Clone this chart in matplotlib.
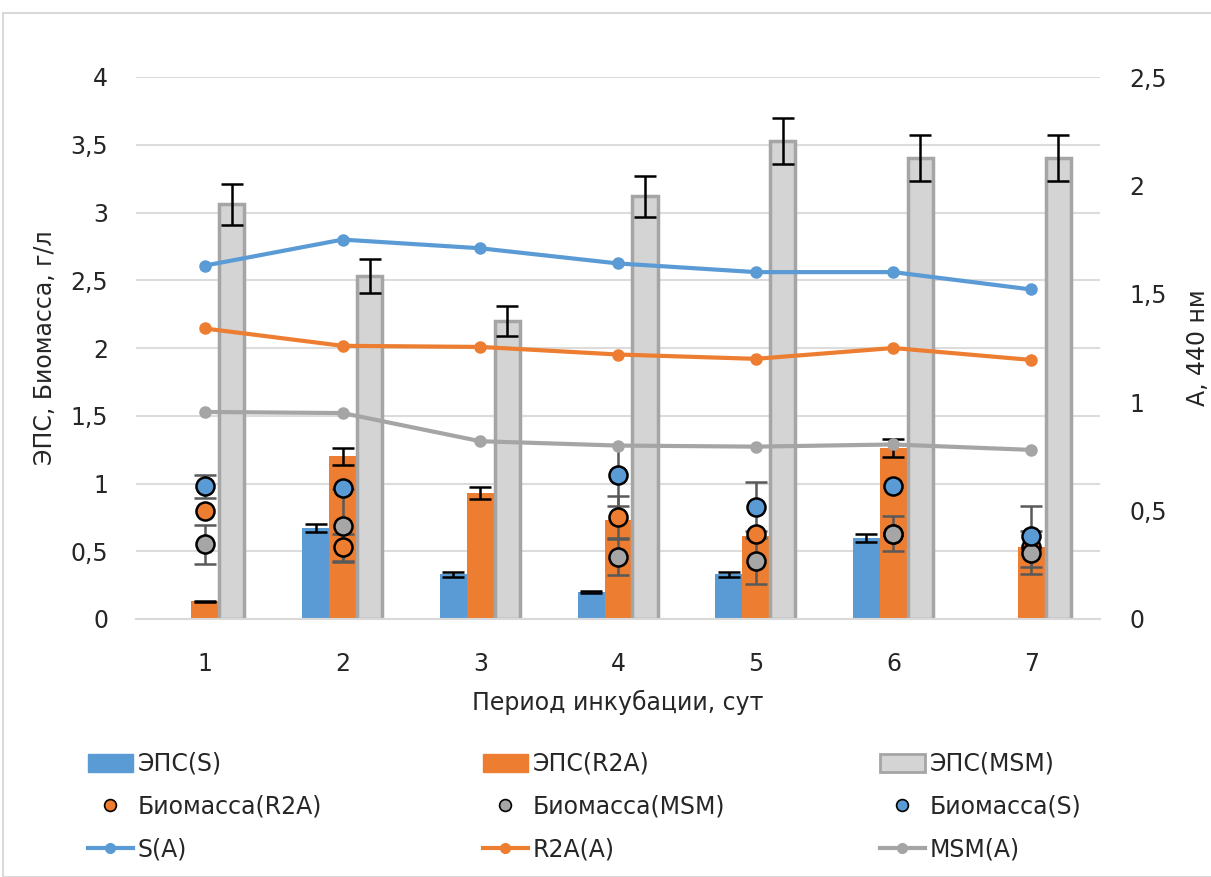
import matplotlib
matplotlib.use("Agg")
import matplotlib.pyplot as plt
import numpy as np
from matplotlib.lines import Line2D
from matplotlib.patches import Patch, Rectangle
from matplotlib.ticker import FuncFormatter

plt.rcParams['font.family'] = ['DejaVu Sans']

days = [1, 2, 3, 4, 5, 6, 7]

# EPS, g/l (left axis)
eps_s = [0.0, 0.67, 0.33, 0.20, 0.33, 0.60, 0.0]
eps_s_err = [0.0, 0.03, 0.02, 0.01, 0.02, 0.03, 0.0]
eps_r2a = [0.13, 1.20, 0.93, 0.73, 0.61, 1.26, 0.53]
eps_r2a_err = [0.005, 0.06, 0.045, 0.0, 0.0, 0.065, 0.0]
eps_msm = [3.06, 2.53, 2.20, 3.12, 3.53, 3.40, 3.40]
eps_msm_err = [0.15, 0.125, 0.11, 0.15, 0.17, 0.17, 0.17]

# Biomass, g/l (left axis); None = not measured
bio_r2a = [0.80, 0.53, None, 0.75, 0.63, 0.63, 0.53]
bio_r2a_err = [0.0, 0.10, 0.0, 0.16, 0.0, 0.0, 0.0]
bio_msm = [0.55, 0.69, None, 0.46, 0.43, 0.63, 0.49]
bio_msm_err = [0.145, 0.27, 0.0, 0.135, 0.17, 0.13, 0.16]
bio_s = [0.98, 0.97, None, 1.06, 0.83, 0.98, 0.61]
bio_s_err = [0.085, 0.0, 0.0, 0.225, 0.18, 0.0, 0.225]

# Absorbance at 440 nm (right axis)
a_s = [1.63, 1.75, 1.71, 1.64, 1.60, 1.60, 1.52]
a_r2a = [1.34, 1.26, 1.255, 1.22, 1.20, 1.25, 1.195]
a_msm = [0.955, 0.95, 0.82, 0.80, 0.795, 0.805, 0.78]

left_ticks = [0, 0.5, 1, 1.5, 2, 2.5, 3, 3.5, 4]
right_ticks = [0, 0.5, 1, 1.5, 2, 2.5]

BLUE = '#5b9bd5'
ORANGE = '#ed7d31'
GRAY = '#a5a5a5'
LIGHT = '#d4d4d4'
TXT = '#262626'
FS = 17

W, H = 1211, 877
fig = plt.figure(figsize=(W / 100, H / 100), dpi=100)
fig.patches.append(Rectangle((3 / W, 0), 1.2, 1 - 13 / H, transform=fig.transFigure,
                             fill=False, edgecolor='#d9d9d9', linewidth=1.5))

ax = fig.add_axes([136 / W, 1 - 619 / H, 964 / W, 542 / H])
x = np.array(days, dtype=float)
bw = 0.196


def comma(v, _):
    return ('%g' % v).replace('.', ',')


ax.set_xlim(0.5, 7.5)
ax.set_ylim(0, 4)
ax.set_yticks(left_ticks)
ax.yaxis.set_major_formatter(FuncFormatter(comma))
ax.set_xticks(days)
ax.grid(axis='y', color='#dcdcdc', linewidth=1.5)
ax.set_axisbelow(True)
for sp in ['top', 'left', 'right']:
    ax.spines[sp].set_visible(False)
ax.spines['bottom'].set_color('#d9d9d9')
ax.spines['bottom'].set_linewidth(1.5)
ax.tick_params(length=0, labelsize=FS, colors=TXT)
ax.tick_params(axis='y', pad=20)
ax.tick_params(axis='x', pad=24)

ekw = dict(ecolor='black', elinewidth=1.8, capsize=8, capthick=1.8)
s_mask = np.array(eps_s) > 0
ax.bar(x[s_mask] - bw, np.array(eps_s)[s_mask], bw, color=BLUE, zorder=2,
       yerr=np.array(eps_s_err)[s_mask], error_kw=ekw)
ax.bar(x, eps_r2a, bw, color=ORANGE, zorder=2)
r_mask = np.array(eps_r2a_err) > 0
ax.errorbar(x[r_mask], np.array(eps_r2a)[r_mask], yerr=np.array(eps_r2a_err)[r_mask],
            fmt='none', zorder=2.5, **ekw)
ax.bar(x + bw, eps_msm, bw - 0.014, color=LIGHT, edgecolor=GRAY, linewidth=2.5, zorder=2,
       yerr=eps_msm_err, error_kw=ekw)

# Biomass points with error bars
bio_sets = [(bio_r2a, bio_r2a_err, ORANGE), (bio_msm, bio_msm_err, '#a6a6a6'),
            (bio_s, bio_s_err, BLUE)]
for vals, errs, col in bio_sets:
    for xi, v, e in zip(x, vals, errs):
        if v is None:
            continue
        if e > 0:
            ax.errorbar(xi, v, yerr=e, fmt='none', ecolor='#595959', elinewidth=1.8,
                        capsize=8, capthick=1.8, zorder=3)
for vals, errs, col in bio_sets:
    xs = [xi for xi, v in zip(x, vals) if v is not None]
    ys = [v for v in vals if v is not None]
    ax.plot(xs, ys, 'o', ms=13, mfc=col, mec='black', mew=1.8, ls='none', zorder=4)

ax.set_xlabel('Период инкубации, сут', fontsize=FS, color=TXT, labelpad=10)
ax.set_ylabel('ЭПС, Биомасса, г/л', fontsize=FS, color=TXT, labelpad=10)

ax2 = ax.twinx()
ax2.set_ylim(0, 2.5)
ax2.set_yticks(right_ticks)
ax2.yaxis.set_major_formatter(FuncFormatter(comma))
for sp in ax2.spines.values():
    sp.set_visible(False)
ax2.tick_params(length=0, labelsize=FS, colors=TXT, pad=21)
for vals, col in [(a_s, BLUE), (a_r2a, ORANGE), (a_msm, GRAY)]:
    ax2.plot(x, vals, '-o', color=col, lw=3, ms=8)
ax2.set_ylabel('A, 440 нм', fontsize=FS, color=TXT, labelpad=14)

# Legend, built column by column
cols = [
    [Patch(facecolor=BLUE, edgecolor=BLUE),
     Line2D([], [], ls='none', marker='o', ms=8.5, mfc=ORANGE, mec='black', mew=1.2),
     Line2D([], [], color=BLUE, lw=3, marker='o', ms=7)],
    [Patch(facecolor=ORANGE, edgecolor=ORANGE),
     Line2D([], [], ls='none', marker='o', ms=8.5, mfc='#a6a6a6', mec='black', mew=1.2),
     Line2D([], [], color=ORANGE, lw=3, marker='o', ms=7)],
    [Patch(facecolor=LIGHT, edgecolor=GRAY, linewidth=2),
     Line2D([], [], ls='none', marker='o', ms=8.5, mfc=BLUE, mec='black', mew=1.2),
     Line2D([], [], color=GRAY, lw=3, marker='o', ms=7)],
]
names = [['ЭПС(S)', 'Биомасса(R2A)', 'S(A)'],
         ['ЭПС(R2A)', 'Биомасса(MSM)', 'R2A(A)'],
         ['ЭПС(MSM)', 'Биомасса(S)', 'MSM(A)']]
col_x = [88, 483, 880]
for cx, hs, ls in zip(col_x, cols, names):
    fig.legend(hs, ls, loc='upper left', bbox_to_anchor=(cx / W, 1 - 752 / H),
               frameon=False, fontsize=FS, labelcolor=TXT, handlelength=1.9,
               handleheight=0.8, handletextpad=0.2, labelspacing=0.8,
               borderpad=0, borderaxespad=0)

fig.savefig('out.png', dpi=100)
